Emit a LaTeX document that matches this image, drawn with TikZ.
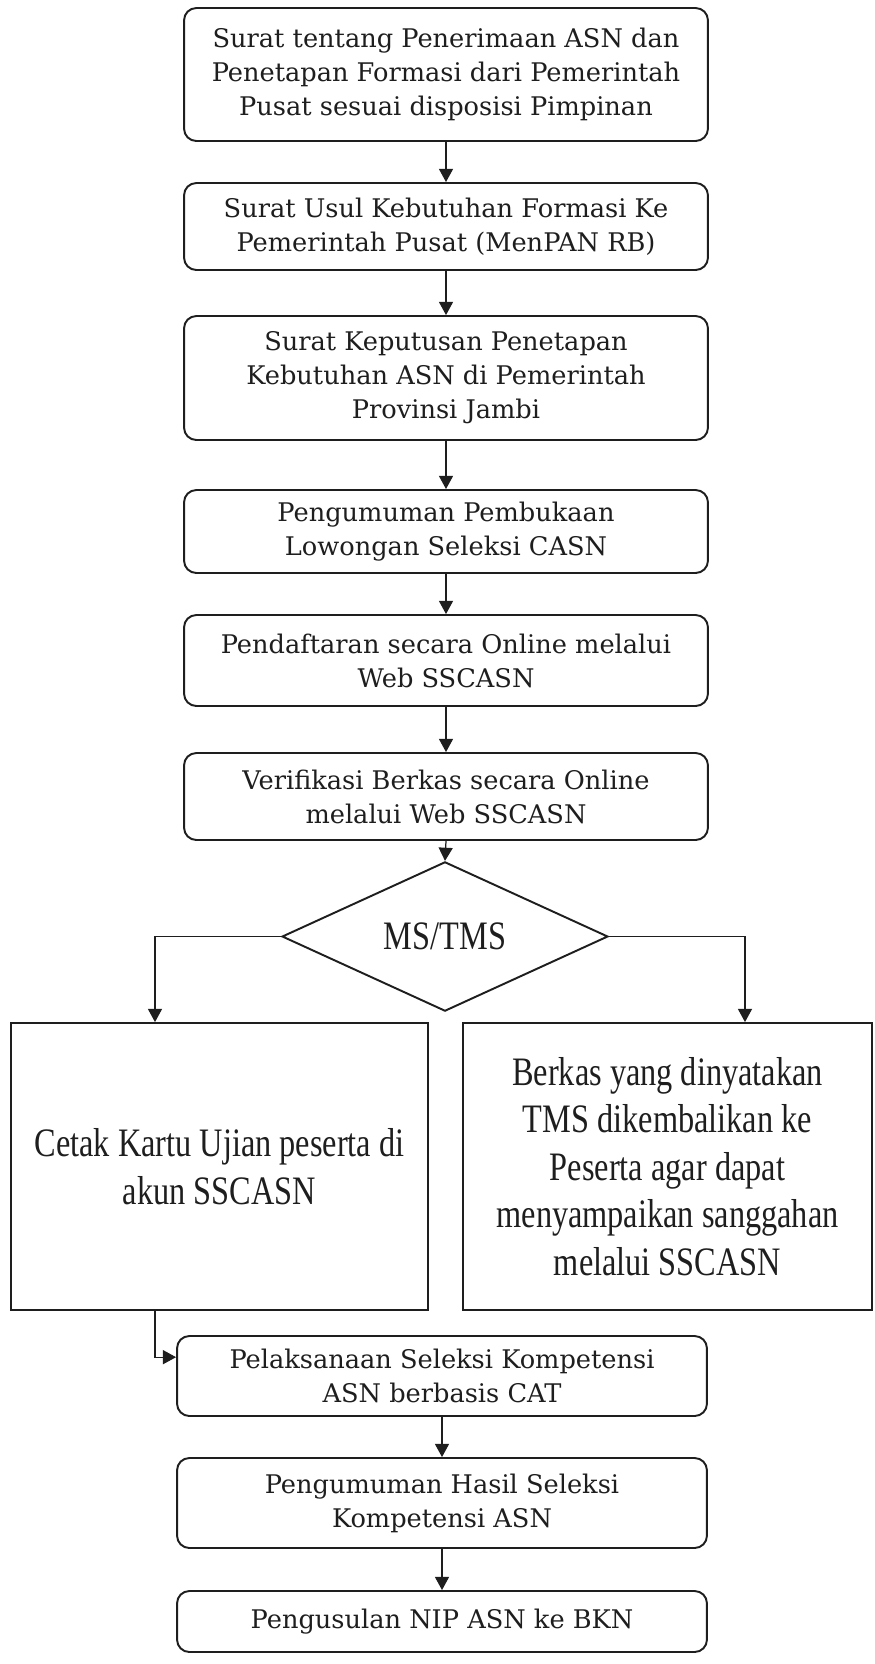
\documentclass[tikz,border=0pt]{standalone}
\usepackage{fontspec}
\setmainfont{DejaVu Serif}
\newfontfamily\sidefont[FakeStretch=0.8]{Liberation Serif}
\usetikzlibrary{calc,positioning,arrows.meta,shapes.geometric}
\definecolor{ink}{HTML}{1E1E1E}

\begin{document}
\begin{tikzpicture}[x=0.02cm,y=-0.02cm,color=ink,
  stepbox/.style={draw=ink,line width=1.1pt,rounded corners=7pt,align=center,inner sep=0pt,
    minimum width=10.48cm,font=\fontsize{14.6}{19.4}\selectfont},
  sidebox/.style={draw=ink,line width=1.1pt,align=center,inner sep=0pt,
    font=\sidefont\fontsize{23}{27}\selectfont},
  flow/.style={draw=ink,line width=0.7pt,-{Triangle[length=7.5pt,width=8pt]}}]
\useasboundingbox (0,0) rectangle (875,1664);

% main column
\node[stepbox,minimum height=2.66cm] (terima) at (446,74.5)
  {Surat tentang Penerimaan ASN dan\\ Penetapan Formasi dari Pemerintah\\ Pusat sesuai disposisi Pimpinan};
\node[stepbox,minimum height=1.74cm] (usul) at (446,226.5)
  {Surat Usul Kebutuhan Formasi Ke\\ Pemerintah Pusat (MenPAN RB)};
\node[stepbox,minimum height=2.48cm] (sk) at (446,378)
  {Surat Keputusan Penetapan\\ Kebutuhan ASN di Pemerintah\\ Provinsi Jambi};
\node[stepbox,minimum height=1.66cm] (umum) at (446,531.5)
  {Pengumuman Pembukaan\\ Lowongan Seleksi CASN};
\node[stepbox,minimum height=1.82cm] (daftar) at (446,660.5)
  {Pendaftaran secara Online melalui\\ Web SSCASN};
\node[stepbox,minimum height=1.74cm] (verif) at (446,796.5)
  {Verifikasi Berkas secara Online\\ melalui Web SSCASN};

% decision
\node[diamond,draw=ink,line width=1.1pt,inner sep=0pt,minimum width=6.52cm,minimum height=2.54cm,
  font=\sidefont\fontsize{23}{27}\selectfont] (ms) at (445,936.5) {MS/TMS};

\node[sidebox,minimum width=8.34cm,minimum height=5.74cm] (cetak) at (219.5,1166.5)
  {Cetak Kartu Ujian peserta di\\ akun SSCASN};
\node[sidebox,minimum width=8.18cm,minimum height=5.74cm] (tms) at (667.5,1166.5)
  {Berkas yang dinyatakan\\ TMS dikembalikan ke\\ Peserta agar dapat\\ menyampaikan sanggahan\\ melalui SSCASN};

% lower column
\node[stepbox,minimum width=10.6cm,minimum height=1.6cm] (cat) at (442,1376)
  {Pelaksanaan Seleksi Kompetensi\\ ASN berbasis CAT};
\node[stepbox,minimum width=10.6cm,minimum height=1.8cm] (hasil) at (442,1503)
  {Pengumuman Hasil Seleksi\\ Kompetensi ASN};
\node[stepbox,minimum width=10.6cm,minimum height=1.22cm] (nip) at (442,1621.5)
  {Pengusulan NIP ASN ke BKN};

\coordinate (lx) at (155,0);
\coordinate (rx) at (745,0);
\coordinate (catin) at ($(cat.north west)!0.27!(cat.south west)$);

\draw[flow] (terima) -- (usul);
\draw[flow] (usul) -- (sk);
\draw[flow] (sk) -- (umum);
\draw[flow] (umum) -- (daftar);
\draw[flow] (daftar) -- (verif);
\draw[flow] (verif.south) -- (ms.north);
\draw[flow] (ms.west) -| (cetak.north -| lx);
\draw[flow] (ms.east) -| (tms.north -| rx);
\draw[flow] (cetak.south -| lx) |- (catin);
\draw[flow] (cat) -- (hasil);
\draw[flow] (hasil) -- (nip);
\end{tikzpicture}
\end{document}
